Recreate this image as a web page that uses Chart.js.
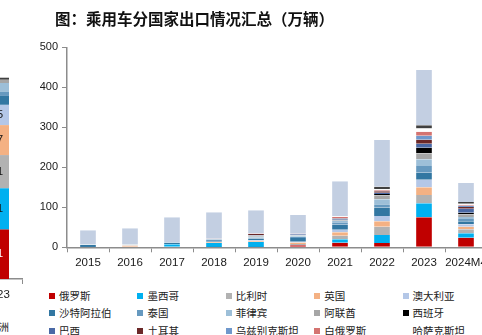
<!DOCTYPE html>
<html>
<head>
<meta charset="utf-8">
<script src="https://cdn.jsdelivr.net/npm/chart.js@4.4.1/dist/chart.umd.min.js"></script>
<style>
  html, body { margin:0; padding:0; background:#fff; }
  body { width:482px; height:335px; overflow:hidden; position:relative; }
  #title { position:absolute; left:55px; top:8px; font-family:"Noto Sans CJK SC"; font-weight:bold; font-size:15.5px; color:#111; white-space:nowrap; line-height:20px; }
  #main { position:absolute; left:0; top:0; }
  #frag { position:absolute; left:-40px; top:0; }
  .lg { position:absolute; font-family:"Noto Sans CJK SC"; font-size:10.5px; color:#222; white-space:nowrap; line-height:14px; }
  .lg i { position:absolute; left:0; top:4px; width:6px; height:6px; }
  .lg span { position:absolute; left:10px; top:0; }
  #fraglbl { position:absolute; right:473px; top:319px; font-family:"Noto Sans CJK SC"; font-size:10.5px; color:#222; white-space:nowrap; }
</style>
</head>
<body>
<canvas id="frag" width="64" height="300"></canvas>
<canvas id="main" width="500" height="275"></canvas>
<div id="title">图：乘用车分国家出口情况汇总（万辆）</div>
<div id="fraglbl">欧洲</div>
<div id="legend"></div>
<script>
// ---- main chart data (万辆) ----
const categories = ['2015','2016','2017','2018','2019','2020','2021','2022','2023','2024M4'];
const yTicks = [0,100,200,300,400,500];

const russia     = [0,   0,   0,   0.5, 1,   5,   11.5, 11,   75,   24];
const mexico     = [0,   0,   7.5, 10,  12,  1,   8.5,  20,   35,   11];
const belgium    = [0,   1.5, 0,   0.5, 1,   2,   9,    20.5, 21,   10];
const uk         = [0,   3,   0.5, 1.5, 2.5, 4,   8.5,  13.5, 19,   6.5];
const australia  = [0.5, 0.5, 0.5, 1.5, 2,   2,   6.5,  13,   19,   6];
const saudi      = [5,   0.5, 3,   2,   3.5, 9,   12.5, 21,   17.5, 7.5];
const thailand   = [1,   1,   1,   2,   2.5, 3.5, 6,    8.5,  16.5, 6];
const philippines= [0.5, 0.5, 0.5, 2,   2,   3,   4,    12.5, 17,   5];
const uae        = [0,   0.5, 0,   1,   3,   1.5, 2,    10,   15,   6.5];
const spain      = [0,   0,   0,   0,   0,   0,   0.5,  3,    14,   4];
const brazil     = [0,   0.5, 0,   0.5, 1.5, 1.5, 1.5,  3.5,  10,   10];
const turkey     = [0,   0,   0,   0.5, 3,   0.5, 1.5,  3.5,  10,   4];
const uzbekistan = [0,   0,   0,   0,   0.5, 0.5, 1.5,  1.5,  10,   3.5];
const belarus    = [0,   0,   0,   0,   0.5, 0.5, 2,    1.5,  10,   2.5];
const kazakhstan = [0,   0,   0,   0,   0,   0,   2,    2,    8,    2.5];
const israel     = [0,   0,   0,   0,   0,   0,   0.5,  6.5,  8,    4];
const others     = [35.5,39.5,62,  65.5,57.5,47,  87,   116.5,138,  48];

const seriesNames = ['俄罗斯','墨西哥','比利时','英国','澳大利亚','沙特阿拉伯','泰国','菲律宾','阿联酋','西班牙','巴西','土耳其','乌兹别克斯坦','白俄罗斯','哈萨克斯坦','以色列','其他'];
const seriesData = [russia,mexico,belgium,uk,australia,saudi,thailand,philippines,uae,spain,brazil,turkey,uzbekistan,belarus,kazakhstan,israel,others];
const seriesColors = ['#C00000','#00B0F0','#B2B2B2','#F4B183','#B4C7E7','#3277A2','#6699BF','#9DBFD8','#A6A6A6','#000000','#4A69A6','#6B2828','#6F98CC','#D47370','#FFFFFF','#404040','#C3CFE2'];

// ---- left fragment chart data ----
const fragCategories = ['2023'];
const fragValues = [61, 51, 41, 37, 25, 11, 5, 11, 4, 2.5];
const fragColors = ['#C00000','#00B0F0','#B2B2B2','#F4B183','#B4C7E7','#3277A2','#6699BF','#9DBFD8','#A6A6A6','#404040'];

const axisColor = '#8c8c8c';
const tickFont = {family:'Liberation Sans', size:11};

new Chart(document.getElementById('main'), {
  type:'bar',
  data:{
    labels:categories,
    datasets: seriesNames.map((n,i)=>({
      label:n, data:seriesData[i], backgroundColor:seriesColors[i],
      borderColor:'rgba(255,255,255,0.45)', borderWidth:{left:1,right:1,top:0,bottom:0},
      barPercentage:0.42, categoryPercentage:1
    }))
  },
  options:{
    responsive:false, animation:false, devicePixelRatio:1,
    layout:{padding:{top:47.3,right:13,left:0,bottom:0}},
    plugins:{legend:{display:false}, tooltip:{enabled:false}},
    scales:{
      x:{stacked:true,
        grid:{display:true, drawOnChartArea:false, drawTicks:true, tickLength:5, color:axisColor, offset:true},
        border:{display:true,color:axisColor,width:1.5},
        ticks:{font:{family:'Liberation Sans', size:11.5}, color:'#1a1a1a', padding:4, maxRotation:0, autoSkip:false},
        afterFit:(s)=>{s.height = 275-247.3;}
      },
      y:{stacked:true, min:0, max:500,
        afterBuildTicks:(s)=>{s.ticks = yTicks.map(v=>({value:v}));},
        grid:{display:true, drawOnChartArea:false, drawTicks:true, tickLength:5, color:axisColor},
        border:{display:true,color:axisColor,width:1.5},
        ticks:{font:tickFont, color:'#1a1a1a', padding:4},
        afterFit:(s)=>{s.width = 67;}
      }
    }
  }
});

// fragment of a neighbouring chart on the left edge
const fragLabels = {
  id:'fragLabels',
  afterDatasetsDraw(chart){
    const ctx = chart.ctx;
    ctx.save();
    ctx.font = '11px "Liberation Sans"';
    ctx.textAlign='center'; ctx.textBaseline='middle';
    chart.data.datasets.forEach((ds,i)=>{
      const v = ds.data[0];
      if (v < 20) return;
      const el = chart.getDatasetMeta(i).data[0];
      ctx.fillStyle = i===0 ? '#fff' : '#111';
      ctx.fillText(String(v), el.x, (el.y+el.base)/2);
    });
    ctx.restore();
  }
};
new Chart(document.getElementById('frag'), {
  type:'bar',
  data:{labels:fragCategories, datasets: fragValues.map((v,i)=>({data:[v], backgroundColor:fragColors[i], barPercentage:0.48, categoryPercentage:1}))},
  options:{
    responsive:false, animation:false, devicePixelRatio:1,
    layout:{padding:{top:36,right:2,left:12,bottom:0}},
    plugins:{legend:{display:false}, tooltip:{enabled:false}},
    scales:{
      x:{stacked:true,
        grid:{display:true, drawOnChartArea:false, drawTicks:true, tickLength:5, color:axisColor, offset:true},
        border:{display:true,color:axisColor,width:1.5},
        ticks:{font:{family:'Liberation Sans', size:11.5}, color:'#1a1a1a', padding:4},
        afterFit:(s)=>{s.height = 300-279;}
      },
      y:{stacked:true, display:false, min:0, max:300}
    }
  },
  plugins:[fragLabels]
});

// legend (5 columns, row by row, same order as stacking)
const lg = document.getElementById('legend');
seriesNames.forEach((n,i)=>{
  const col = i%5, row = Math.floor(i/5);
  const d = document.createElement('div');
  d.className='lg';
  d.style.left = (49 + col*88.4)+'px';
  d.style.top = (288.7 + row*17.5)+'px';
  d.innerHTML = '<i style="background:'+seriesColors[i]+'"></i><span>'+n+'</span>';
  lg.appendChild(d);
});
</script>
</body>
</html>
